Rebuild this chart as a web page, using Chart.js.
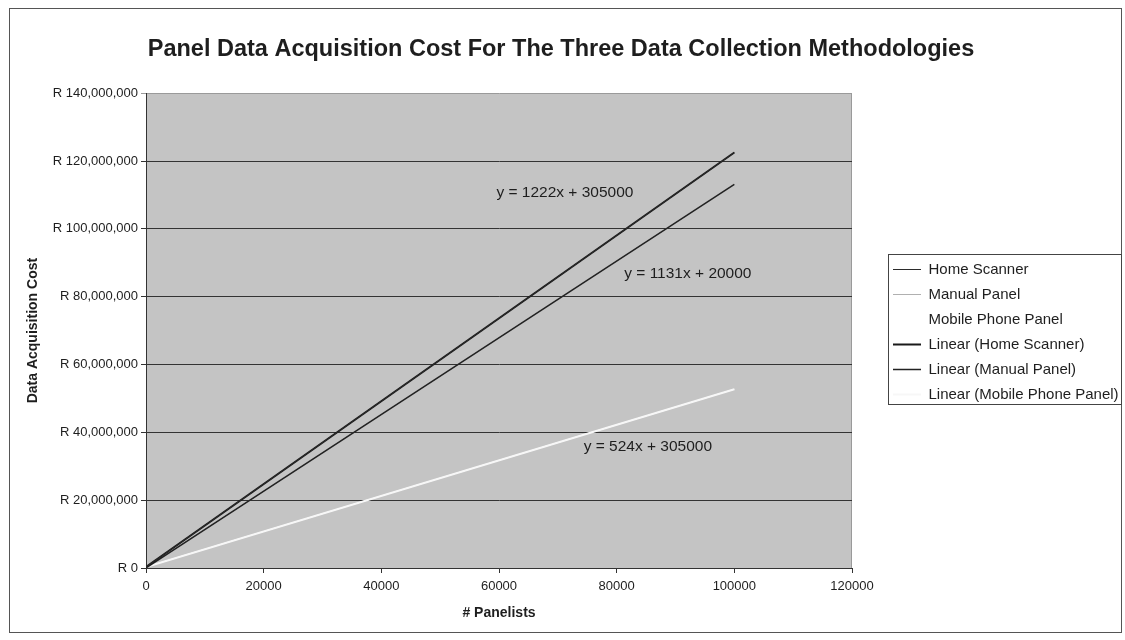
<!DOCTYPE html>
<html>
<head>
<meta charset="utf-8">
<script src="https://cdn.jsdelivr.net/npm/chart.js@4"></script>
<style>
  html, body { margin: 0; padding: 0; background: #fff; }
  #wrap { width: 1125px; height: 640px; }
</style>
</head>
<body>
<div id="wrap"><canvas id="chart"></canvas></div>
<script>
(function () {
    "use strict";

    // Data
    const panelists = [0, 20000, 40000, 60000, 80000, 100000];
    const homeScanner = [305000, 24745000, 49185000, 73625000, 98065000, 122505000];
    const manualPanel = [20000, 22640000, 45260000, 67880000, 90500000, 113120000];
    const mobilePanel = [305000, 10785000, 21265000, 31745000, 42225000, 52705000];

    const trendX = [0, 100000];
    const trendHome = [305000, 122505000];
    const trendManual = [20000, 113120000];
    const trendMobile = [305000, 52705000];

    const yTicks = [0, 20000000, 40000000, 60000000, 80000000, 100000000, 120000000, 140000000];
    const xTicks = [0, 20000, 40000, 60000, 80000, 100000, 120000];

    const equations = [
        { text: "y = 1222x + 305000", x: 71200, y: 110800000 },
        { text: "y = 1131x + 20000", x: 92100, y: 86900000 },
        { text: "y = 524x + 305000", x: 85300, y: 35700000 },
    ];

    const pts = (xs, ys) => xs.map((x, i) => ({ x: x, y: ys[i] }));
    const FONT = "'Liberation Sans', Arial, sans-serif";
    const INK = "#1e1e1e";

    // Plot background, outer frame, legend box, equation labels
    const decor = {
        id: "decor",
        afterLayout(chart) {
            // push the legend right, away from the plot
            const lg = chart.legend;
            lg.left += 31;
            lg.right += 31;
            lg.top += 12;
            lg.bottom += 12;
        },
        beforeDraw(chart) {
            const { ctx, chartArea: a } = chart;
            ctx.save();
            ctx.fillStyle = "#c4c4c4";
            ctx.fillRect(a.left, a.top, a.right - a.left, a.bottom - a.top);
            ctx.strokeStyle = "#9a9a9a";
            ctx.lineWidth = 1;
            ctx.beginPath();
            ctx.moveTo(Math.round(a.right) - 0.5, a.top);
            ctx.lineTo(Math.round(a.right) - 0.5, a.bottom);
            ctx.stroke();
            ctx.restore();
        },
        afterDraw(chart) {
            const { ctx } = chart;
            ctx.save();
            ctx.strokeStyle = "#555";
            ctx.lineWidth = 1;
            ctx.strokeRect(9.5, 8.5, 1112, 624);

            const boxes = chart.legend.legendHitBoxes;
            if (boxes.length) {
                let minX = Infinity, minY = Infinity, maxX = -Infinity, maxY = -Infinity;
                boxes.forEach((b) => {
                    minX = Math.min(minX, b.left);
                    minY = Math.min(minY, b.top);
                    maxX = Math.max(maxX, b.left + b.width);
                    maxY = Math.max(maxY, b.top + b.height);
                });
                ctx.strokeStyle = "#444";
                const l = Math.round(minX - 5) + 0.5;
                const t = Math.round(minY - 8) + 0.5;
                ctx.strokeRect(l, t, Math.min(1121.5, maxX + 3) - l, Math.round(maxY + 2) + 0.5 - t);
            }

            const xs = chart.scales.x, ys = chart.scales.y;
            ctx.fillStyle = INK;
            ctx.font = "15.5px " + FONT;
            ctx.textAlign = "center";
            ctx.textBaseline = "middle";
            equations.forEach((e) => {
                ctx.fillText(e.text, xs.getPixelForValue(e.x), ys.getPixelForValue(e.y));
            });
            ctx.restore();
        },
    };

    new Chart(document.getElementById("chart"), {
        type: "line",
        data: {
            datasets: [
                {
                    label: "Home Scanner",
                    data: pts(panelists, homeScanner),
                    borderColor: "#2b2b2b",
                    borderWidth: 1,
                    order: 1,
                },
                {
                    label: "Manual Panel",
                    data: pts(panelists, manualPanel),
                    borderColor: "#b0b0b0",
                    borderWidth: 1,
                    order: 5,
                },
                {
                    label: "Mobile Phone Panel",
                    data: pts(panelists, mobilePanel),
                    borderColor: "#ffffff",
                    borderWidth: 1,
                    order: 6,
                },
                {
                    label: "Linear (Home Scanner)",
                    data: pts(trendX, trendHome),
                    borderColor: "#1a1a1a",
                    borderWidth: 2,
                    order: 2,
                },
                {
                    label: "Linear (Manual Panel)",
                    data: pts(trendX, trendManual),
                    borderColor: "#222222",
                    borderWidth: 1.5,
                    order: 3,
                },
                {
                    label: "Linear (Mobile Phone Panel)",
                    data: pts(trendX, trendMobile),
                    borderColor: "#f7f7f7",
                    borderWidth: 2,
                    order: 4,
                },
            ],
        },
        options: {
            responsive: true,
            maintainAspectRatio: false,
            animation: false,
            layout: {
                padding: { left: 0, right: 3, top: 0, bottom: 0 },
            },
            elements: {
                point: { radius: 0, hoverRadius: 0 },
                line: { tension: 0, fill: false },
            },
            plugins: {
                tooltip: { enabled: false },
                title: {
                    display: true,
                    text: "Panel Data Acquisition Cost For The Three Data Collection Methodologies",
                    color: INK,
                    font: { family: FONT, size: 23.5, weight: "bold" },
                    padding: { top: 35, bottom: 30 },
                },
                legend: {
                    position: "right",
                    labels: {
                        color: INK,
                        font: { family: FONT, size: 15 },
                        usePointStyle: true,
                        pointStyle: "line",
                        pointStyleWidth: 28,
                        boxHeight: 15,
                        padding: 10,
                        generateLabels(chart) {
                            return chart.data.datasets.map((d, i) => ({
                                text: d.label,
                                fillStyle: d.borderColor,
                                strokeStyle: d.borderColor,
                                lineWidth: d.borderWidth,
                                pointStyle: "line",
                                hidden: false,
                                datasetIndex: i,
                                fontColor: INK,
                            }));
                        },
                    },
                },
            },
            scales: {
                x: {
                    type: "linear",
                    min: 0,
                    max: 120000,
                    afterBuildTicks(scale) {
                        scale.ticks = xTicks.map((v) => ({ value: v }));
                    },
                    afterFit(scale) {
                        scale.height = 72;
                        // keep the plot's right edge clear of the legend
                        scale.paddingRight = 273;
                    },
                    ticks: {
                        color: INK,
                        font: { family: FONT, size: 13 },
                        padding: 6,
                        maxRotation: 0,
                        callback: (v) => String(v),
                    },
                    grid: {
                        drawOnChartArea: false,
                        drawTicks: true,
                        tickLength: 5,
                        color: "#333",
                    },
                    border: { color: "#333", width: 1 },
                    title: {
                        display: true,
                        text: "# Panelists",
                        color: INK,
                        font: { family: FONT, size: 14, weight: "bold" },
                        padding: { top: 10, bottom: 18 },
                    },
                },
                y: {
                    type: "linear",
                    min: 0,
                    max: 140000000,
                    afterBuildTicks(scale) {
                        scale.ticks = yTicks.map((v) => ({ value: v }));
                    },
                    afterFit(scale) {
                        scale.width = 146;
                    },
                    ticks: {
                        color: INK,
                        font: { family: FONT, size: 13 },
                        padding: 3,
                        callback: (v) => "R " + Number(v).toLocaleString("en-US"),
                    },
                    grid: {
                        color: (c) => (c.tick && c.tick.value === 140000000 ? "#9a9a9a" : "#333"),
                        lineWidth: 1,
                        drawTicks: true,
                        tickLength: 5,
                    },
                    border: { color: "#333", width: 1 },
                    title: {
                        display: true,
                        text: "Data Acquisition Cost",
                        color: INK,
                        font: { family: FONT, size: 14, weight: "bold" },
                        padding: { top: 25, bottom: 10 },
                    },
                },
            },
        },
        plugins: [decor],
    });
})();
</script>
</body>
</html>
